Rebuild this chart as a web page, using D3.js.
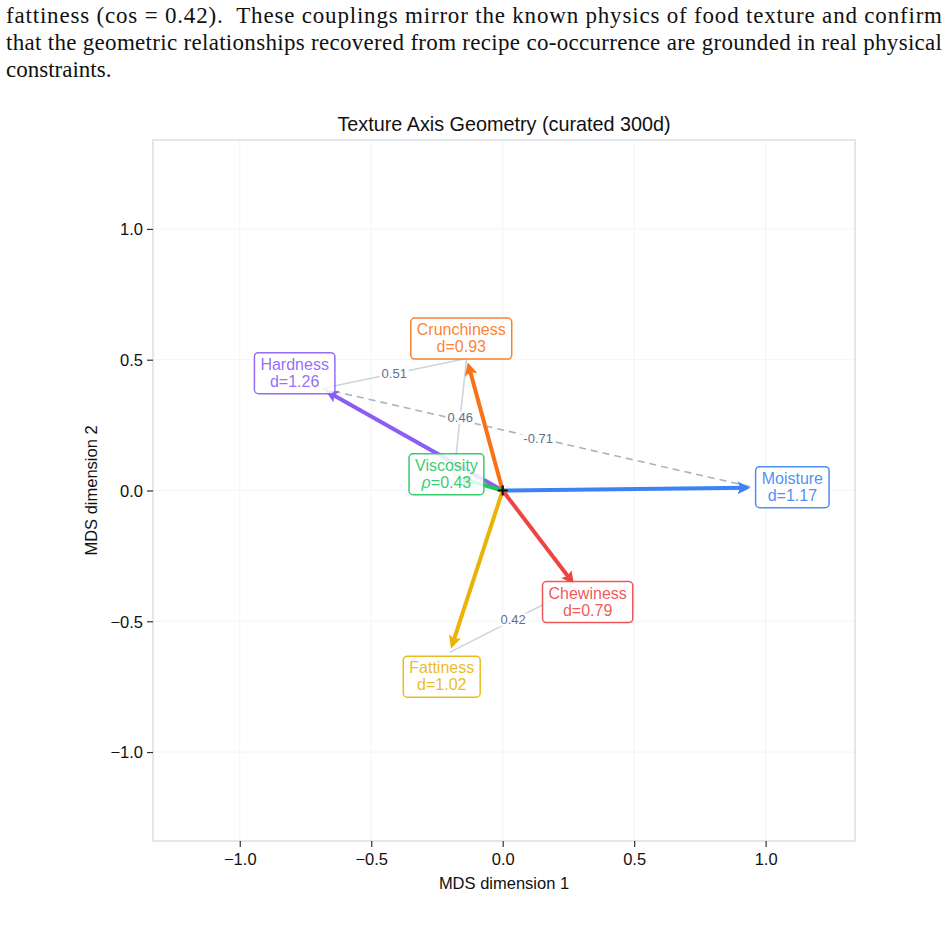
<!DOCTYPE html>
<html>
<head>
<meta charset="utf-8">
<script src="https://d3js.org/d3.v7.min.js"></script>
<style>
  body { margin: 0; background: #fff; }
  svg text { font-family: "Liberation Sans", Arial, Helvetica, sans-serif; }
  svg text.paper { font-family: "Liberation Serif", "Times New Roman", serif; font-size: 23px; fill: #111; }
</style>
</head>
<body>
<div id="chart"></div>
<script>
// surrounding paper text
var paperLines = [
  "fattiness (cos = 0.42).  These couplings mirror the known physics of food texture and confirm",
  "that the geometric relationships recovered from recipe co-occurrence are grounded in real physical",
  "constraints."
];

// texture axes: MDS coordinates
var axisNames = ["Hardness", "Crunchiness", "Viscosity", "Moisture", "Chewiness", "Fattiness"];
var mdsX = [-0.688, -0.137, -0.186, 0.958, 0.281, -0.2015];
var mdsY = [0.390, 0.505, 0.054, 0.011, -0.371, -0.619];
var statName = ["d", "d", "ρ", "d", "d", "d"];
var statVal = ["1.26", "0.93", "0.43", "1.17", "0.79", "1.02"];
var axisColors = ["#8b5cf6", "#f97316", "#22c55e", "#3b82f6", "#ef4444", "#eab308"];

// cosine couplings between axes
var couplingFrom = ["Hardness", "Crunchiness", "Hardness", "Fattiness"];
var couplingTo = ["Crunchiness", "Viscosity", "Moisture", "Chewiness"];
var couplingCos = [0.51, 0.46, -0.71, 0.42];

var xTicks = [-1.0, -0.5, 0.0, 0.5, 1.0];
var yTicks = [-1.0, -0.5, 0.0, 0.5, 1.0];

var width = 947, height = 935;
var plotL = 153, plotR = 855, plotT = 140, plotB = 841;

var svg = d3.select("#chart").append("svg")
    .attr("width", width)
    .attr("height", height);

// paper text
var baselines = [23, 50, 77];
paperLines.forEach(function(t, i) {
  var tx = svg.append("text").attr("class", "paper")
      .attr("x", 6).attr("y", baselines[i])
      .style("white-space", "pre")
      .text(t);
  if (i < 2) tx.attr("textLength", 936).attr("lengthAdjust", "spacing");
});

var x = d3.scaleLinear().domain([-1.33, 1.34]).range([plotL, plotR]);
var y = d3.scaleLinear().domain([-1.34, 1.34]).range([plotB, plotT]);

// grid
var grid = svg.append("g");
grid.selectAll(".gx").data(xTicks).enter().append("line")
    .attr("x1", d => x(d)).attr("x2", d => x(d))
    .attr("y1", plotT).attr("y2", plotB)
    .attr("stroke", "#f1f4f8").attr("stroke-width", 1);
grid.selectAll(".gy").data(yTicks).enter().append("line")
    .attr("y1", d => y(d)).attr("y2", d => y(d))
    .attr("x1", plotL).attr("x2", plotR)
    .attr("stroke", "#f1f4f8").attr("stroke-width", 1);

// frame
svg.append("rect")
    .attr("x", plotL).attr("y", plotT)
    .attr("width", plotR - plotL).attr("height", plotB - plotT)
    .attr("fill", "none").attr("stroke", "#d3dbe7").attr("stroke-width", 1.3);

// axes
var fmt = d3.format(".1f");
var xAxis = svg.append("g").attr("transform", "translate(0," + plotB + ")")
    .call(d3.axisBottom(x).tickValues(xTicks).tickFormat(fmt).tickSize(6).tickPadding(4));
var yAxis = svg.append("g").attr("transform", "translate(" + plotL + ",0)")
    .call(d3.axisLeft(y).tickValues(yTicks).tickFormat(fmt).tickSize(6).tickPadding(4));
[xAxis, yAxis].forEach(function(a) {
  a.select(".domain").remove();
  a.selectAll(".tick line").attr("stroke", "#333").attr("stroke-width", 1.2);
  a.selectAll(".tick text").attr("fill", "#111").attr("font-size", null)
      .style("font-size", "16.5px")
      .style("font-family", "Liberation Sans, Arial, sans-serif");
});
xAxis.selectAll(".tick text").attr("dy", "0.85em");
yAxis.selectAll(".tick text").attr("dy", "0.35em");

// titles
svg.append("text").attr("x", (plotL + plotR) / 2).attr("y", 131)
    .attr("text-anchor", "middle").style("font-size", "19.8px").attr("fill", "#111")
    .text("Texture Axis Geometry (curated 300d)");
svg.append("text").attr("x", (plotL + plotR) / 2).attr("y", 889)
    .attr("text-anchor", "middle").style("font-size", "16.5px").attr("fill", "#111")
    .text("MDS dimension 1");
svg.append("text")
    .attr("transform", "translate(97," + ((plotT + plotB) / 2) + ") rotate(-90)")
    .attr("text-anchor", "middle").style("font-size", "16.5px").attr("fill", "#111")
    .text("MDS dimension 2");

var axes = axisNames.map(function(n, i) {
  return { name: n, x: mdsX[i], y: mdsY[i], stat: statName[i], val: statVal[i], color: axisColors[i] };
});
var byName = {};
axes.forEach(a => byName[a.name] = a);

// couplings
var couplings = couplingCos.map(function(c, i) {
  return { a: byName[couplingFrom[i]], b: byName[couplingTo[i]], cos: c };
});
var cg = svg.append("g");
cg.selectAll("line").data(couplings).enter().append("line")
    .attr("x1", d => x(d.a.x)).attr("y1", d => y(d.a.y))
    .attr("x2", d => x(d.b.x)).attr("y2", d => y(d.b.y))
    .attr("stroke", d => d.cos < 0 ? "#a9b3c4" : "#cdd4df")
    .attr("stroke-width", 1.6)
    .attr("stroke-dasharray", d => d.cos < 0 ? "7,5" : null);

// arrows
var defs = svg.append("defs");
axes.forEach(function(a, i) {
  defs.append("marker").attr("id", "head" + i)
      .attr("viewBox", "0 0 10 10").attr("refX", 7).attr("refY", 5)
      .attr("markerWidth", 3.4).attr("markerHeight", 3.2)
      .attr("markerUnits", "strokeWidth")
      .attr("orient", "auto")
    .append("path").attr("d", "M0,0 L10,5 L0,10 L2,5 Z").attr("fill", a.color);
});
var ag = svg.append("g");
axes.forEach(function(a, i) {
  var x0 = x(0), y0 = y(0), x1 = x(a.x), y1 = y(a.y);
  var len = Math.hypot(x1 - x0, y1 - y0);
  var k = (len - 8) / len;
  ag.append("line")
      .attr("x1", x0).attr("y1", y0)
      .attr("x2", x0 + (x1 - x0) * k).attr("y2", y0 + (y1 - y0) * k)
      .attr("stroke", a.color).attr("stroke-width", 4)
      .attr("marker-end", "url(#head" + i + ")");
});

// origin marker
svg.append("path")
    .attr("d", "M" + (x(0) - 5) + "," + y(0) + "h10M" + x(0) + "," + (y(0) - 5) + "v10")
    .attr("stroke", "#111").attr("stroke-width", 2.2);

// coupling value labels
var cl = svg.append("g");
couplings.forEach(function(d) {
  var mx = (x(d.a.x) + x(d.b.x)) / 2, my = (y(d.a.y) + y(d.b.y)) / 2;
  var g = cl.append("g");
  var t = g.append("text").attr("x", mx).attr("y", my + 4.5)
      .attr("text-anchor", "middle").style("font-size", "13px").attr("fill", "#64708a")
      .text(d.cos < 0 ? "-" + Math.abs(d.cos).toFixed(2) : d.cos.toFixed(2));
  var bb = t.node().getBBox();
  g.insert("rect", "text").attr("x", bb.x - 2).attr("y", bb.y + 1)
      .attr("width", bb.width + 4).attr("height", bb.height - 2)
      .attr("fill", "#fff").attr("opacity", 0.85);
});

// axis labels (boxes)
var lg = svg.append("g");
axes.forEach(function(a) {
  var cx = x(a.x * 1.15), cy = y(a.y * 1.15);
  var g = lg.append("g");
  var t = g.append("text").attr("text-anchor", "middle").style("font-size", "16px")
      .attr("fill", a.color).attr("fill-opacity", 0.9);
  t.append("tspan").attr("x", cx).attr("y", cy - 3.5).text(a.name);
  var t2 = t.append("tspan").attr("x", cx).attr("y", cy + 13.5);
  t2.append("tspan").style("font-style", a.stat === "ρ" ? "italic" : null).text(a.stat);
  t2.append("tspan").text("=" + a.val);
  var bb = t.node().getBBox();
  var w = bb.width + 12, h = 41;
  g.insert("rect", "text")
      .attr("x", cx - w / 2).attr("y", cy - h / 2)
      .attr("width", w).attr("height", h).attr("rx", 4)
      .attr("fill", "#fff").attr("fill-opacity", 0.85)
      .attr("stroke", a.color).attr("stroke-opacity", 0.9).attr("stroke-width", 1.5);
});
</script>
</body>
</html>
